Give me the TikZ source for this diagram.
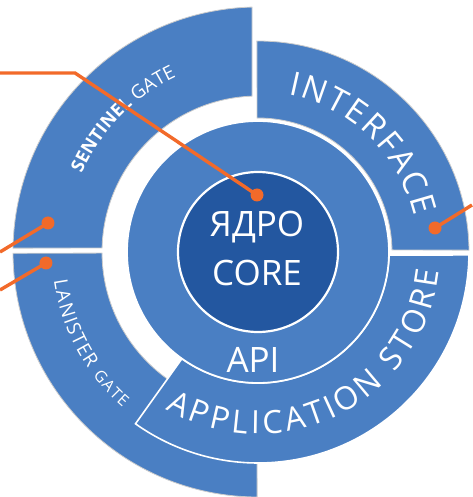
\documentclass[tikz,border=0pt]{standalone}
\usepackage{fontspec}
\setmainfont{Open Sans}
\usetikzlibrary{decorations.text}
\definecolor{ringblue}{HTML}{4A7FC3}
\definecolor{coreblue}{HTML}{2357A0}
\definecolor{wireorange}{HTML}{F26A2A}

\begin{document}
\begin{tikzpicture}[x=1pt,y=1pt,
		ring/.style={fill=ringblue,draw=black!20,line width=0.8pt},
		wire/.style={draw=wireorange,line width=3.4pt},
		wiredot/.style={fill=wireorange},
		ringtext/.style={text=white,font=\fontsize{35}{35}\selectfont},
		arclabel/.style={decorate,decoration={text along path,text color=white,text align={fit to path},text={#1}}}]
		\useasboundingbox (-258,-245) rectangle (214,252);
		% outer gates
		\path[ring] (91.4:245) arc[start angle=91.4,end angle=179.1,radius=245] -- (178.5:156) arc[start angle=178.5,end angle=92.2,radius=156] -- cycle;
		\path[ring] (180.3:245) arc[start angle=180.3,end angle=269.8,radius=245] -- (269.6:156) arc[start angle=269.6,end angle=180.4,radius=156] -- cycle;
		% interface and store
		\path[ring] (90.3:211) arc[start angle=90.3,end angle=0.5,radius=211] -- (0.9:134) arc[start angle=0.9,end angle=90.4,radius=134] -- cycle;
		\path[ring,draw=white,line width=1.6pt] (-0.8:211) arc[start angle=-0.8,end angle=-125.5,radius=211] -- (-125.5:131) arc[start angle=-125.5,end angle=-1.3,radius=131] -- cycle;
		% api and core
		\node[circle,fill=ringblue,draw=white,line width=1.8pt,minimum size=262pt,inner sep=0pt] (api) at (0,0) {};
		\node[circle,fill=coreblue,draw=white,line width=2.2pt,minimum size=160pt,inner sep=0pt] (core) at (0,0) {};
		\node[ringtext] (coreRu) at (-1,25) {ЯДРО};
		\node[ringtext] (coreEn) at (-1,-21) {CORE};
		\node[ringtext] (apiText) at (-5,-108) {API};
		% curved labels
		\path[arclabel={|\fontsize{33}{33}\selectfont|INTERFACE}] (79:160) arc[start angle=79,end angle=13,radius=160];
		\path[arclabel={|\fontsize{32}{32}\selectfont|APPLICATION STORE}] (239.5:182) arc[start angle=239.5,end angle=354,radius=182];
		\path[arclabel={|\bfseries\fontsize{18}{18}\selectfont|SENTINEL |\mdseries\fontsize{19}{19}\selectfont|GATE}] (156:193) arc[start angle=156,end angle=115,radius=193];
		\path[arclabel={|\fontsize{19}{19}\selectfont|LANISTER |\fontsize{16}{16}\selectfont|GATE}] (188:206) arc[start angle=188,end angle=229,radius=206];
		% wires
		\coordinate (sentinelEnd) at (-258,179);
		\coordinate (sentinelBend) at (-183,179);
		\coordinate (coreDot) at (-1,57);
		\coordinate (gateEndA) at (-258,0);
		\coordinate (gateDotA) at (-210,29);
		\coordinate (gateEndB) at (-258,-38);
		\coordinate (gateDotB) at (-212,-11);
		\coordinate (faceEnd) at (214,47);
		\coordinate (faceDot) at (177,24);
		\draw[wire] (sentinelEnd) -- (sentinelBend) -- (coreDot);
		\draw[wire] (gateEndA) -- (gateDotA);
		\draw[wire] (gateEndB) -- (gateDotB);
		\draw[wire] (faceEnd) -- (faceDot);
		\foreach \d in {coreDot,gateDotA,gateDotB,faceDot}
			\fill[wiredot] (\d) circle (6.5);
	\end{tikzpicture}
\end{document}
